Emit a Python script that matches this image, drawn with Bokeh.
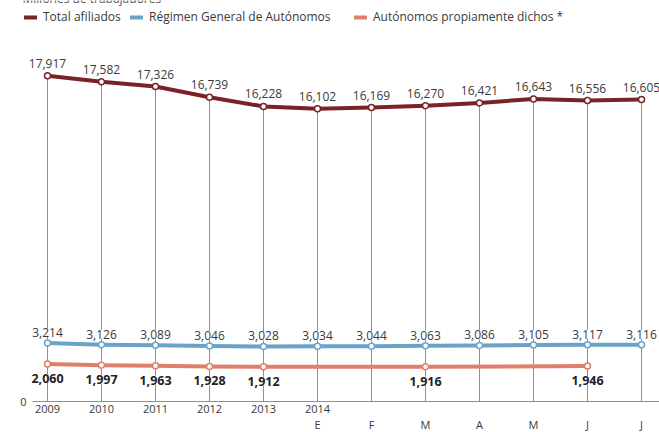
from bokeh.plotting import figure
from bokeh.models import (ColumnDataSource, LabelSet, Legend, LegendItem, LinearAxis,
                          FixedTicker, Label, Range1d)
from bokeh.embed import file_html
from bokeh.resources import INLINE
from bokeh.core.properties import value

# ---------------- data ----------------
periods = ["2009", "2010", "2011", "2012", "2013", "2014-E", "2014-F", "2014-M",
           "2014-A", "2014-My", "2014-Jn", "2014-Jl"]
year_labels = ["2009", "2010", "2011", "2012", "2013", "2014"]
month_labels = ["E", "F", "M", "A", "M", "J", "J"]
total = [17917, 17582, 17326, 16739, 16228, 16102, 16169, 16270, 16421, 16643, 16556, 16605]
general = [3214, 3126, 3089, 3046, 3028, 3034, 3044, 3063, 3086, 3105, 3117, 3116]
propios = [2060, 1997, 1963, 1928, 1912, None, None, 1916, None, None, 1946, None]
series_names = ["Total afiliados", "Régimen General de Autónomos",
                "Autónomos propiamente dichos *"]
subtitle = "Millones de trabajadores"
zero_label = "0"

# ---------------- style / layout ----------------
FONT = "Open Sans"
C_TOTAL = "#7b2226"
C_GEN = "#6aa3c6"
C_PROP = "#e07f6c"
C_GRID = "#8f8f8f"
C_TEXT = "#3a3a3a"

FRAME_W, FRAME_H = 659, 406
PX_PER_UNIT = 0.01818
BASE_PX = 401
X_STEP = 54.0
FIRST_X = 47.0
AXIS_START_PX = 32.0
LEGEND_X = [24, 130, 354]

x = list(range(len(periods)))
px = [i for i, v in enumerate(propios) if v is not None]
pv = [propios[i] for i in px]
month_start = periods.index("2014-E")

x_lo = -FIRST_X / X_STEP
x_hi = (FRAME_W - FIRST_X) / X_STEP
x_range = Range1d(x_lo, x_hi)
y_range = Range1d(-(FRAME_H - BASE_PX) / PX_PER_UNIT, BASE_PX / PX_PER_UNIT)

p = figure(frame_width=FRAME_W, frame_height=FRAME_H, x_range=x_range, y_range=y_range,
           output_backend="svg", toolbar_location=None,
           x_axis_location=None, y_axis_location=None,
           min_border_left=0, min_border_right=0, min_border_top=0, min_border_bottom=0,
           outline_line_color=None)
p.grid.visible = False
p.background_fill_color = "white"
p.border_fill_color = "white"

# x axes: years, then months of 2014
year_ticks = list(range(len(year_labels)))
xax_years = LinearAxis(ticker=FixedTicker(ticks=year_ticks),
                       major_label_overrides={t: l for t, l in zip(year_ticks, year_labels)},
                       axis_line_color=None, major_tick_line_color=None,
                       minor_tick_line_color=None, major_tick_out=0, major_tick_in=0,
                       major_label_standoff=-2, major_label_text_font=FONT,
                       major_label_text_font_size="11px", major_label_text_color=C_TEXT)
month_ticks = list(range(month_start, month_start + len(month_labels)))
xax_months = LinearAxis(ticker=FixedTicker(ticks=month_ticks),
                        major_label_overrides={t: l for t, l in zip(month_ticks, month_labels)},
                        axis_line_color=None, major_tick_line_color=None,
                        minor_tick_line_color=None, major_tick_out=0, major_tick_in=0,
                        major_label_standoff=1, major_label_text_font=FONT,
                        major_label_text_font_size="11px", major_label_text_color=C_TEXT)
p.add_layout(xax_years, "below")
p.add_layout(xax_months, "below")

# baseline (value axis at 0) and its "0" tick label
axis_x0 = x_lo + AXIS_START_PX / X_STEP
p.segment(x0=[axis_x0], y0=[0], x1=[x_hi], y1=[0], line_color=C_GRID, line_width=1)
p.add_layout(Label(x=AXIS_START_PX - 6, x_units="screen", y=0, y_units="data",
                   text=zero_label, text_align="right", text_baseline="middle",
                   text_font=FONT, text_font_size="11px", text_color=C_TEXT))

# vertical guide lines from baseline to the total value
p.segment(x0=x, y0=[0] * len(x), x1=x, y1=total, line_color=C_GRID, line_width=1)

# series
r_total = p.line(x, total, line_color=C_TOTAL, line_width=4, line_cap="round", line_join="round")
p.scatter(x, total, size=6, fill_color="white", line_color=C_TOTAL, line_width=1.5)
r_gen = p.line(x, general, line_color=C_GEN, line_width=4, line_cap="round", line_join="round")
p.scatter(x, general, size=6, fill_color="white", line_color=C_GEN, line_width=1.5)
r_prop = p.line(px, pv, line_color=C_PROP, line_width=4, line_cap="round", line_join="round")
p.scatter(px, pv, size=6, fill_color="white", line_color=C_PROP, line_width=1.5)

# value labels
src_total = ColumnDataSource(dict(x=x, y=total, t=[f"{v:,}" for v in total]))
src_gen = ColumnDataSource(dict(x=x, y=general, t=[f"{v:,}" for v in general]))
src_prop = ColumnDataSource(dict(x=px, y=pv, t=[f"{v:,}" for v in pv]))

p.add_layout(LabelSet(x="x", y="y", text="t", source=src_total, text_align="center",
                      text_baseline="alphabetic", y_offset=8, text_font=value(FONT),
                      text_font_size="12px", text_color=C_TEXT))
p.add_layout(LabelSet(x="x", y="y", text="t", source=src_gen, text_align="center",
                      text_baseline="alphabetic", y_offset=6, text_font=value(FONT),
                      text_font_size="12px", text_color=C_TEXT,
                      background_fill_color="white"))
p.add_layout(LabelSet(x="x", y="y", text="t", source=src_prop, text_align="center",
                      text_baseline="alphabetic", y_offset=-19, text_font=value(FONT),
                      text_font_size="12.5px", text_font_style="bold", text_color="#222222",
                      background_fill_color="white"))

# legend: one entry per series, each placed on the header row
for name, rend, lx in zip(series_names, [r_total, r_gen, r_prop], LEGEND_X):
    p.add_layout(Legend(items=[LegendItem(label=name, renderers=[rend])],
                        orientation="horizontal", location=(lx, FRAME_H - 25),
                        glyph_width=13, glyph_height=14, label_standoff=6, spacing=0,
                        padding=0, margin=0, border_line_color=None,
                        background_fill_alpha=0, label_text_font=FONT,
                        label_text_font_size="12px", label_text_color=C_TEXT))

p.add_layout(Label(x=22, y=FRAME_H + 2, x_units="screen", y_units="screen", text=subtitle,
                   text_baseline="alphabetic", text_font=FONT, text_font_size="12px",
                   text_color="#555555"))

open("out.html", "w").write(file_html(p, INLINE))
